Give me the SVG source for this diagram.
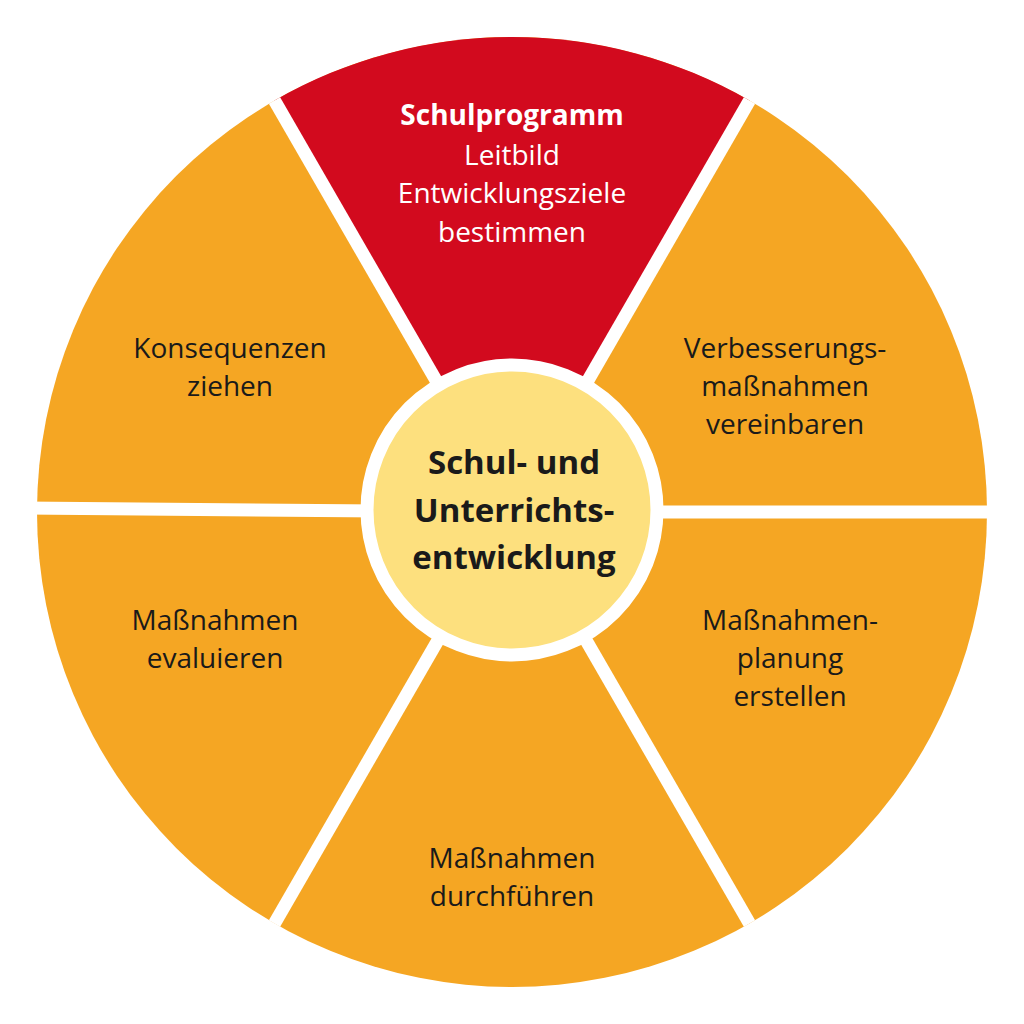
<svg xmlns="http://www.w3.org/2000/svg" width="1024" height="1024" viewBox="0 0 1024 1024">
<style>
.s{fill:#f5a623}
.t{font-family:"Open Sans","Liberation Sans",sans-serif;font-size:28px;fill:#1a1a1a;text-anchor:middle}
.gap{stroke:#fff;stroke-width:13}
</style>
<rect width="1024" height="1024" fill="#fff"/>
<g id="ring">
<circle cx="512" cy="512" r="475" class="s"/>
</g>
<g id="n-top">
<path d="M512 512 L274.5 100.6 A475 475 0 0 1 749.5 100.6 Z" fill="#d20a1e"/>
<text class="t" x="512" y="125" font-weight="bold" fill="#fff" style="fill:#fff">Schulprogramm</text>
<text class="t" x="512" y="165" style="fill:#fff">Leitbild</text>
<text class="t" x="512" y="203" style="fill:#fff">Entwicklungsziele</text>
<text class="t" x="512" y="242" style="fill:#fff">bestimmen</text>
</g>
<g id="connectors">
<line class="gap" x1="512" y1="512" x2="274.5" y2="100.6"/>
<line class="gap" x1="512" y1="512" x2="749.5" y2="100.6"/>
<line class="gap" x1="512" y1="512" x2="1000" y2="512"/>
<line class="gap" x1="512" y1="512" x2="24" y2="508"/>
<line class="gap" x1="512" y1="512" x2="274.5" y2="923.4"/>
<line class="gap" x1="512" y1="512" x2="749.5" y2="923.4"/>
</g>
<g id="n-right-top">
<text class="t" x="785" y="358">Verbesserungs-</text>
<text class="t" x="785" y="396">maßnahmen</text>
<text class="t" x="785" y="434">vereinbaren</text>
</g>
<g id="n-right-bottom">
<text class="t" x="790" y="630">Maßnahmen-</text>
<text class="t" x="790" y="668">planung</text>
<text class="t" x="790" y="706">erstellen</text>
</g>
<g id="n-bottom">
<text class="t" x="512" y="868">Maßnahmen</text>
<text class="t" x="512" y="906">durchführen</text>
</g>
<g id="n-left-bottom">
<text class="t" x="215" y="630">Maßnahmen</text>
<text class="t" x="215" y="668">evaluieren</text>
</g>
<g id="n-left-top">
<text class="t" x="230" y="358">Konsequenzen</text>
<text class="t" x="230" y="396">ziehen</text>
</g>
<g id="center">
<circle cx="512" cy="510" r="145" fill="#fde07e" stroke="#fff" stroke-width="13"/>
<text class="t" x="514" y="474" font-weight="bold" style="font-size:33px">Schul- und</text>
<text class="t" x="514" y="522" font-weight="bold" style="font-size:33px">Unterrichts-</text>
<text class="t" x="514" y="569" font-weight="bold" style="font-size:33px">entwicklung</text>
</g>
</svg>
